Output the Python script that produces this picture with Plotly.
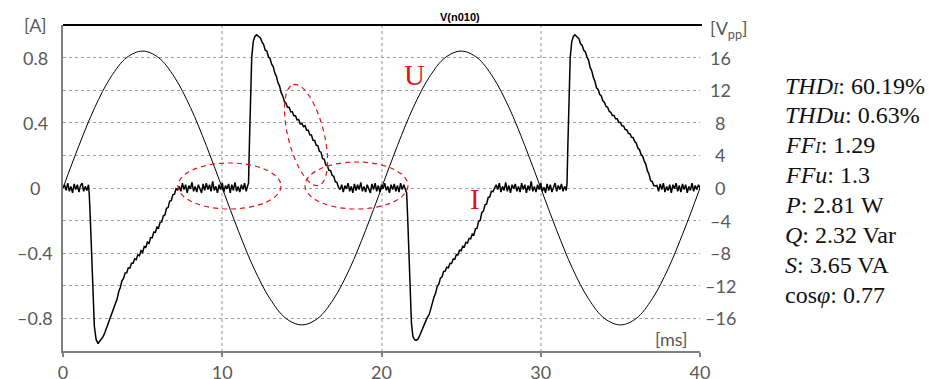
import numpy as np
import plotly.graph_objects as go

# ---------------- data ----------------
volt_t = list(range(0, 41))
volt_v = [0.0, 5.2, 9.9, 13.6, 16.0, 16.8, 16.0, 13.6, 9.9, 5.2,
          0.0, -5.2, -9.9, -13.6, -16.0, -16.8, -16.0, -13.6, -9.9, -5.2,
          0.0, 5.2, 9.9, 13.6, 16.0, 16.8, 16.0, 13.6, 9.9, 5.2,
          0.0, -5.2, -9.9, -13.6, -16.0, -16.8, -16.0, -13.6, -9.9, -5.2, 0.0]

# Current I (A): segments sampled every 0.1 ms (start time, values)
STEP = 0.1
plat_a_t0 = 0.0
plat_a = [0.0, 0.02, -0.015, 0.03, -0.02, 0.01, -0.03, 0.025, -0.01, 0.02,
          -0.025, 0.015, 0.03, -0.02, 0.01, -0.015, 0.02]
drop1_t = [1.65, 1.72, 1.80, 1.88, 1.97, 2.08, 2.20, 2.30, 2.40, 2.50, 2.62, 2.75, 2.90]
drop1_i = [-0.04, -0.20, -0.42, -0.63, -0.85, -0.93, -0.955, -0.94, -0.93, -0.915, -0.89, -0.855, -0.82]
slope1_t0 = 3.0
slope1 = [-0.79, -0.765, -0.745, -0.705, -0.68, -0.635, -0.61, -0.57, -0.555, -0.522,
          -0.52, -0.49, -0.492, -0.462, -0.462, -0.435, -0.44, -0.41, -0.415, -0.385,
          -0.395, -0.36, -0.365, -0.332, -0.34, -0.305, -0.305, -0.27, -0.272, -0.24,
          -0.245, -0.21, -0.208, -0.17, -0.165, -0.125, -0.12, -0.08, -0.078, -0.04,
          -0.038, -0.005, -0.012]
plat_b_t0 = 7.3
plat_b = [0.01, -0.02, 0.03, -0.01, 0.02, -0.03, 0.015, -0.005, 0.035, -0.02,
          0.01, -0.025, 0.02, 0.0, -0.03, 0.025, -0.015, 0.03, -0.01, 0.02,
          -0.02, 0.04, -0.015, 0.01, -0.03, 0.02, -0.01, 0.03, -0.025, 0.015,
          -0.005, 0.025, -0.03, 0.02, -0.015, 0.035, -0.02, 0.01, -0.025, 0.02,
          -0.01, 0.03, -0.02, 0.015]
rise1_t = [11.65, 11.70, 11.76, 11.85, 11.95, 12.05, 12.15, 12.30]
rise1_i = [0.03, 0.25, 0.54, 0.80, 0.90, 0.93, 0.94, 0.93]
decay1_t0 = 12.4
decay1 = [0.92, 0.895, 0.88, 0.845, 0.84, 0.805, 0.795, 0.76, 0.745, 0.705,
          0.685, 0.645, 0.625, 0.585, 0.565, 0.53, 0.52, 0.495, 0.495, 0.468,
          0.468, 0.443, 0.443, 0.418, 0.42, 0.393, 0.397, 0.376, 0.382, 0.355,
          0.355, 0.326, 0.325, 0.293, 0.292, 0.262, 0.26, 0.225, 0.22, 0.18,
          0.177, 0.142, 0.138, 0.108, 0.107, 0.078, 0.072, 0.038, 0.035, 0.004]
plat_c_t0 = 17.4
plat_c = [-0.01, 0.02, -0.025, 0.015, -0.005, 0.03, -0.02, 0.01, -0.03, 0.025,
          -0.015, 0.02, -0.01, 0.035, -0.02, 0.01, -0.025, 0.02, 0.0, -0.03,
          0.025, -0.01, 0.03, -0.02, 0.015, -0.025, 0.02, -0.005, 0.03, -0.015,
          0.01, -0.03, 0.02, -0.01, 0.025, -0.02, 0.015, -0.025, 0.03, -0.01,
          0.02, -0.015]
drop2_t = [21.58, 21.65, 21.72, 21.80, 21.88, 21.97, 22.08, 22.18, 22.30, 22.42, 22.55, 22.70, 22.85]
drop2_i = [-0.03, -0.20, -0.42, -0.63, -0.83, -0.91, -0.93, -0.935, -0.925, -0.90, -0.87, -0.83, -0.80]
slope2_t0 = 23.0
slope2 = [-0.775, -0.735, -0.71, -0.668, -0.645, -0.603, -0.59, -0.553, -0.545, -0.512,
          -0.51, -0.486, -0.49, -0.462, -0.463, -0.436, -0.437, -0.409, -0.41, -0.382,
          -0.385, -0.357, -0.362, -0.333, -0.338, -0.309, -0.312, -0.283, -0.288, -0.25,
          -0.247, -0.205, -0.198, -0.15, -0.142, -0.103, -0.098, -0.058, -0.055, -0.02,
          -0.022, 0.004]
plat_d_t0 = 27.2
plat_d = [0.02, -0.01, 0.03, -0.025, 0.01, -0.015, 0.035, -0.02, 0.015, -0.03,
          0.02, -0.005, 0.025, -0.02, 0.01, -0.025, 0.03, -0.01, 0.02, -0.03,
          0.015, -0.015, 0.04, -0.02, 0.01, -0.025, 0.02, -0.01, 0.03, -0.02,
          0.005, -0.03, 0.025, -0.015, 0.02, -0.025, 0.01, 0.03, -0.02, 0.015,
          -0.01, 0.025, -0.02, 0.01, -0.015]
rise2_t = [31.65, 31.70, 31.76, 31.85, 31.95, 32.05, 32.15, 32.30]
rise2_i = [0.03, 0.25, 0.54, 0.80, 0.90, 0.93, 0.94, 0.925]
decay2_t0 = 32.4
decay2 = [0.915, 0.885, 0.875, 0.845, 0.835, 0.805, 0.785, 0.74, 0.72, 0.68,
          0.655, 0.615, 0.605, 0.575, 0.565, 0.535, 0.525, 0.5, 0.495, 0.47,
          0.465, 0.445, 0.445, 0.425, 0.425, 0.403, 0.402, 0.381, 0.38, 0.358,
          0.357, 0.335, 0.333, 0.311, 0.31, 0.285, 0.275, 0.245, 0.235, 0.205,
          0.195, 0.165, 0.145, 0.105, 0.085, 0.045, 0.04, 0.015, 0.012]
plat_e_t0 = 37.3
plat_e = [0.015, -0.02, 0.025, -0.01, 0.03, -0.025, 0.01, -0.015, 0.02, -0.03,
          0.02, -0.005, 0.03, -0.02, 0.015, -0.025, 0.025, -0.01, 0.02, -0.03,
          0.01, -0.015, 0.03, -0.02, 0.015, -0.01, 0.02, 0.0]

# tick labels
x_ticks = [0, 10, 20, 30, 40]
left_ticks = [-0.8, -0.4, 0, 0.4, 0.8]
left_text = ["\u20130.8", "\u20130.4", "0", "0.4", "0.8"]
right_ticks = [-16, -12, -8, -4, 0, 4, 8, 12, 16]
right_text = ["\u201316", "\u201312", "\u20138", "\u20134", "0", "4", "8", "12", "16"]

stats = [
    "<i>THD</i><i><span style='font-size:16px'>I</span></i>: 60.19%",
    "<i>THDu</i>: 0.63%",
    "<i>FF</i><i><span style='font-size:16px'>I</span></i>: 1.29",
    "<i>FFu</i>: 1.3",
    "<i>P</i>: 2.81 W",
    "<i>Q</i>: 2.32 Var",
    "<i>S</i>: 3.65 VA",
    "cos<i>\u03c6</i>: 0.77",
]

# ---------------- build current series ----------------
def sampled(t0, vals):
    return [round(t0 + STEP * k, 2) for k in range(len(vals))], list(vals)

cur_t, cur_i = [], []
for seg in [sampled(plat_a_t0, plat_a), (drop1_t, drop1_i), sampled(slope1_t0, slope1),
            sampled(plat_b_t0, plat_b), (rise1_t, rise1_i), sampled(decay1_t0, decay1),
            sampled(plat_c_t0, plat_c), (drop2_t, drop2_i), sampled(slope2_t0, slope2),
            sampled(plat_d_t0, plat_d), (rise2_t, rise2_i), sampled(decay2_t0, decay2),
            sampled(plat_e_t0, plat_e)]:
    cur_t += list(seg[0])
    cur_i += list(seg[1])

# ---------------- layout geometry ----------------
W, H = 929, 379
ML, MR, MT, MB = 63, 229, 25, 28
PW, PH = W - ML - MR, H - MT - MB

def xp(px):
    return (px - ML) / PW

def yp(py):
    return (MT + PH - py) / PH

XR = [0, 40]
YR = [-1, 1]
Y2R = [-20, 20]

def px2x(px):
    return XR[0] + (px - ML) / PW * (XR[1] - XR[0])

def py2y(py):
    return YR[1] - (py - MT) / PH * (YR[1] - YR[0])

TICK_FONT = dict(family="Lato, Carlito, sans-serif", size=18, color="#595959")
RED = "#e0151b"

fig = go.Figure()
fig.add_trace(go.Scatter(x=volt_t, y=volt_v, yaxis="y2", mode="lines",
                         line=dict(color="#000000", width=1, shape="spline"),
                         showlegend=False, hoverinfo="skip"))
fig.add_trace(go.Scatter(x=cur_t, y=cur_i, mode="lines",
                         line=dict(color="#000000", width=1.5),
                         showlegend=False, hoverinfo="skip"))

shapes = []
# top black border
shapes.append(dict(type="line", xref="paper", yref="paper", x0=0, x1=1.003, y0=1, y1=1,
                   line=dict(color="#000000", width=2)))
# dashed red ellipses
ell_style = dict(color=RED, width=1.2, dash="5px,4px")
shapes.append(dict(type="circle", xref="x", yref="y",
                   x0=px2x(178), x1=px2x(281), y0=py2y(209), y1=py2y(163),
                   line=ell_style))
shapes.append(dict(type="circle", xref="x", yref="y",
                   x0=px2x(305), x1=px2x(408), y0=py2y(209), y1=py2y(162),
                   line=ell_style))
# tilted ellipse (screen-space params)
cx, cy, a, b, th = 306, 135, 52, 18, np.deg2rad(14)
ang = np.linspace(0, 2 * np.pi, 73)
ex = cx + (-a * np.sin(th)) * np.cos(ang) + b * np.cos(th) * np.sin(ang)
ey = cy + (-a * np.cos(th)) * np.cos(ang) - b * np.sin(th) * np.sin(ang)
path = "M " + " L ".join(f"{px2x(u):.4f},{py2y(v):.4f}" for u, v in zip(ex, ey)) + " Z"
shapes.append(dict(type="path", xref="x", yref="y", path=path, line=ell_style))

ann = []
for v, t in zip(left_ticks, left_text):
    ann.append(dict(x=xp(35), xref="paper", y=v, yref="y", text=t, showarrow=False,
                    xanchor="center", yanchor="middle", font=TICK_FONT))
for v, t in zip(right_ticks, right_text):
    ann.append(dict(x=xp(720), xref="paper", y=v, yref="y2", text=t, showarrow=False,
                    xanchor="center", yanchor="middle", font=TICK_FONT))
ann.append(dict(x=xp(35), y=yp(25), xref="paper", yref="paper", text="[A]",
                showarrow=False, xanchor="center", yanchor="middle", font=TICK_FONT))
ann.append(dict(x=xp(708), y=yp(29), xref="paper", yref="paper", text="[V<sub>pp</sub>]",
                showarrow=False, xanchor="left", yanchor="middle", font=TICK_FONT))
ann.append(dict(x=xp(671), y=yp(338.5), xref="paper", yref="paper", text="[ms]",
                showarrow=False, xanchor="center", yanchor="middle", font=TICK_FONT))
ann.append(dict(x=xp(459.5), y=yp(16.5), xref="paper", yref="paper", text="<b>V(n010)</b>",
                showarrow=False, xanchor="center", yanchor="middle",
                font=dict(family="Liberation Sans, Arial", size=11, color="#000000")))
ann.append(dict(x=px2x(414), y=py2y(75), xref="x", yref="y", text="U", showarrow=False,
                xanchor="center", yanchor="middle",
                font=dict(family="Liberation Serif, Times New Roman, serif", size=29, color=RED)))
ann.append(dict(x=px2x(475), y=py2y(199), xref="x", yref="y", text="I", showarrow=False,
                xanchor="center", yanchor="middle",
                font=dict(family="Liberation Serif, Times New Roman, serif", size=29, color=RED)))
for k, s in enumerate(stats):
    ann.append(dict(x=xp(783), y=yp(85.6 + 29.9 * k), xref="paper", yref="paper", text=s,
                    showarrow=False, xanchor="left", yanchor="middle",
                    font=dict(family="Liberation Serif, Times New Roman, serif", size=24,
                              color="#111111")))

fig.update_layout(
    width=W, height=H,
    margin=dict(l=ML, r=MR, t=MT, b=MB, pad=0, autoexpand=False),
    paper_bgcolor="white", plot_bgcolor="white",
    xaxis=dict(range=XR, tickvals=x_ticks, ticktext=[str(v) for v in x_ticks],
               showgrid=True, gridcolor="#c8c8c8", gridwidth=1.5, griddash="dot",
               zeroline=False, showline=True, linecolor="#808080", linewidth=2,
               ticks="outside", ticklen=4, tickcolor="#808080", tickwidth=1.5,
               tickfont=TICK_FONT, fixedrange=True, automargin=False),
    yaxis=dict(range=YR, dtick=0.2, tick0=0, showgrid=True, gridcolor="#a0a0a0",
               gridwidth=1, griddash="dot", zeroline=False, showline=True,
               linecolor="#808080", linewidth=2, ticks="", showticklabels=False,
               fixedrange=True, automargin=False),
    yaxis2=dict(range=Y2R, overlaying="y", side="right", showgrid=False, zeroline=False,
                showline=False, showticklabels=False, ticks="", fixedrange=True,
                automargin=False),
    shapes=shapes, annotations=ann,
)

fig.write_html("out.html")
